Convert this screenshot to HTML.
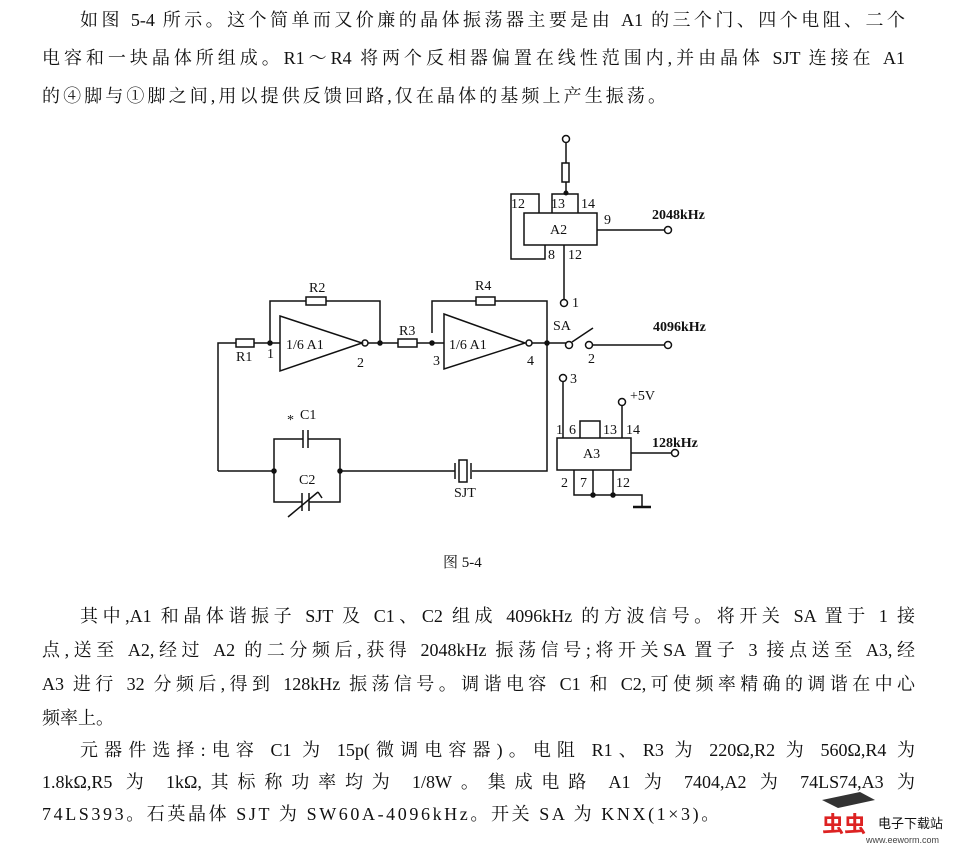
<!DOCTYPE html>
<html><head><meta charset="utf-8"><style>
body{margin:0;width:960px;height:845px;background:#fff;position:relative;overflow:hidden;font-family:"Liberation Serif","Noto Serif CJK SC",serif;color:#111}
.l{position:absolute;font-size:18px;line-height:20px;white-space:nowrap;text-align:justify;text-align-last:justify}
.n{text-align-last:left}
svg{position:absolute;left:0;top:0}
svg text{font-family:"Liberation Serif",serif;font-size:14px;fill:#111}
</style></head><body>
<div class="l" style="left:80px;top:10px;width:825px">如图 5-4 所示。这个简单而又价廉的晶体振荡器主要是由 A1 的三个门、四个电阻、二个</div>
<div class="l" style="left:42px;top:48px;width:863px">电容和一块晶体所组成。R1～R4 将两个反相器偏置在线性范围内,并由晶体 SJT 连接在 A1</div>
<div class="l n" style="left:42px;top:86px;letter-spacing:3.1px">的④脚与①脚之间,用以提供反馈回路,仅在晶体的基频上产生振荡。</div>

<div class="l" style="left:80px;top:606px;width:835px">其中,A1 和晶体谐振子 SJT 及 C1、C2 组成 4096kHz 的方波信号。将开关 SA 置于 1 接</div>
<div class="l" style="left:42px;top:640px;width:873px">点,送至 A2,经过 A2 的二分频后,获得 2048kHz 振荡信号;将开关SA 置子 3 接点送至 A3,经</div>
<div class="l" style="left:42px;top:674px;width:873px">A3 进行 32 分频后,得到 128kHz 振荡信号。调谐电容 C1 和 C2,可使频率精确的调谐在中心</div>
<div class="l n" style="left:42px;top:708px;">频率上。</div>
<div class="l" style="left:80px;top:740px;width:835px">元器件选择:电容 C1 为 15p(微调电容器)。电阻 R1、R3 为 220Ω,R2 为 560Ω,R4 为</div>
<div class="l" style="left:42px;top:772px;width:873px">1.8kΩ,R5 为 1kΩ,其标称功率均为 1/8W。集成电路 A1 为 7404,A2 为 74LS74,A3 为</div>
<div class="l n" style="left:42px;top:804px;letter-spacing:2.6px">74LS393。石英晶体 SJT 为 SW60A-4096kHz。开关 SA 为 KNX(1×3)。</div>
<div class="l n" style="left:443px;top:553px;font-size:15px">图 5-4</div>

<svg width="960" height="845" stroke="#111" stroke-width="1.5" fill="none">
<circle cx="566" cy="139" r="3.5"/>
<line x1="566" y1="143" x2="566" y2="163"/><rect x="562" y="163" width="7" height="19"/>
<line x1="566" y1="182" x2="566" y2="194"/><circle cx="566" cy="193" r="1.8" fill="#111"/>
<polyline points="552,213 552,194 578,194 578,213"/>
<rect x="524" y="213" width="73" height="32"/>
<polyline points="539,213 539,194 511,194 511,259 545,259 545,245"/>
<line x1="564" y1="245" x2="564" y2="299"/><circle cx="564" cy="303" r="3.5"/>
<line x1="597" y1="230" x2="665" y2="230"/><circle cx="668" cy="230" r="3.5"/>
<polyline points="218,471 218,343 236,343"/><rect x="236" y="339" width="18" height="8"/>
<line x1="254" y1="343" x2="280" y2="343"/>
<polyline points="270,343 270,301 306,301"/><rect x="306" y="297" width="20" height="8"/>
<polyline points="326,301 380,301 380,343"/>
<polygon points="280,316 362,343 280,371"/><circle cx="365" cy="343" r="3"/>
<line x1="368" y1="343" x2="398" y2="343"/><rect x="398" y="339" width="19" height="8"/>
<line x1="417" y1="343" x2="444" y2="343"/>
<polyline points="432,333 432,301 476,301"/><rect x="476" y="297" width="19" height="8"/>
<polyline points="495,301 547,301 547,471 472,471"/>
<polygon points="444,314 525,343 444,369"/><circle cx="529" cy="343" r="3"/>
<line x1="532" y1="343" x2="566" y2="343"/>
<g fill="#111"><circle cx="270" cy="343" r="2"/><circle cx="380" cy="343" r="2"/><circle cx="432" cy="343" r="2"/><circle cx="547" cy="343" r="2"/><circle cx="274" cy="471" r="2"/><circle cx="340" cy="471" r="2"/></g>
<circle cx="569" cy="345" r="3.5"/><line x1="572" y1="342" x2="593" y2="328"/>
<circle cx="589" cy="345" r="3.5"/><line x1="593" y1="345" x2="665" y2="345"/><circle cx="668" cy="345" r="3.5"/>
<circle cx="563" cy="378" r="3.5"/><line x1="563" y1="382" x2="563" y2="438"/>
<rect x="557" y="438" width="74" height="32"/>
<polyline points="580,438 580,421 600,421 600,438"/>
<circle cx="622" cy="402" r="3.5"/><line x1="622" y1="406" x2="622" y2="438"/>
<line x1="631" y1="453" x2="672" y2="453"/><circle cx="675" cy="453" r="3.5"/>
<polyline points="574,470 574,495 642,495 642,507"/>
<line x1="593" y1="470" x2="593" y2="495"/><line x1="613" y1="470" x2="613" y2="495"/>
<line x1="633" y1="507" x2="651" y2="507" stroke-width="2.5"/>
<g fill="#111"><circle cx="593" cy="495" r="2"/><circle cx="613" cy="495" r="2"/></g>
<line x1="218" y1="471" x2="274" y2="471"/>
<polyline points="303,439 274,439 274,502 302,502"/><polyline points="308,439 340,439 340,502 309,502"/>
<line x1="303" y1="430" x2="303" y2="448"/><line x1="308" y1="430" x2="308" y2="448"/>
<line x1="302" y1="493" x2="302" y2="511"/><line x1="309" y1="493" x2="309" y2="511"/>
<line x1="288" y1="517" x2="318" y2="492"/><line x1="318" y1="492" x2="322" y2="498"/>
<line x1="340" y1="471" x2="455" y2="471"/>
<line x1="455" y1="463" x2="455" y2="479"/><rect x="459" y="460" width="8" height="22"/><line x1="471" y1="463" x2="471" y2="479"/>
</svg>
<svg width="960" height="845">
<g>
<text x="511" y="208">12</text><text x="551" y="208">13</text><text x="581" y="208">14</text>
<text x="550" y="234" font-size="15">A2</text><text x="604" y="224">9</text>
<text x="548" y="259">8</text><text x="568" y="259">12</text>
<text x="652" y="219" font-weight="bold" font-size="13">2048kHz</text>
<text x="572" y="307">1</text>
<text x="309" y="292">R2</text><text x="475" y="290">R4</text><text x="399" y="335">R3</text>
<text x="236" y="361">R1</text><text x="267" y="358">1</text><text x="357" y="367">2</text>
<text x="433" y="365">3</text><text x="527" y="365">4</text>
<text x="286" y="349" font-size="16">1/6  A1</text><text x="449" y="349" font-size="16">1/6  A1</text>
<text x="553" y="330">SA</text><text x="653" y="331" font-weight="bold" font-size="13">4096kHz</text><text x="588" y="363">2</text>
<text x="570" y="383">3</text><text x="630" y="400">+5V</text>
<text x="556" y="434">1</text><text x="569" y="434">6</text><text x="603" y="434">13</text><text x="626" y="434">14</text>
<text x="583" y="458" font-size="15">A3</text><text x="652" y="447" font-weight="bold" font-size="13">128kHz</text>
<text x="561" y="487">2</text><text x="580" y="487">7</text><text x="616" y="487">12</text>
<text x="287" y="424">*</text><text x="300" y="419">C1</text><text x="299" y="484">C2</text>
<text x="454" y="497">SJT</text>
</g>
<path d="M822 800 L860 792 L875 800 L838 808 Z" fill="#333"/>
<text x="822" y="832" style="font-size:22px;fill:#d22;font-weight:bold;font-family:'Noto Sans CJK SC',sans-serif">虫虫</text>
<text x="878" y="828" style="font-size:13px;font-family:'Noto Sans CJK SC',sans-serif">电子下载站</text>
<text x="866" y="843" style="font-size:9px;fill:#444;font-family:'Liberation Sans',sans-serif">www.eeworm.com</text>
</svg>
</body></html>
